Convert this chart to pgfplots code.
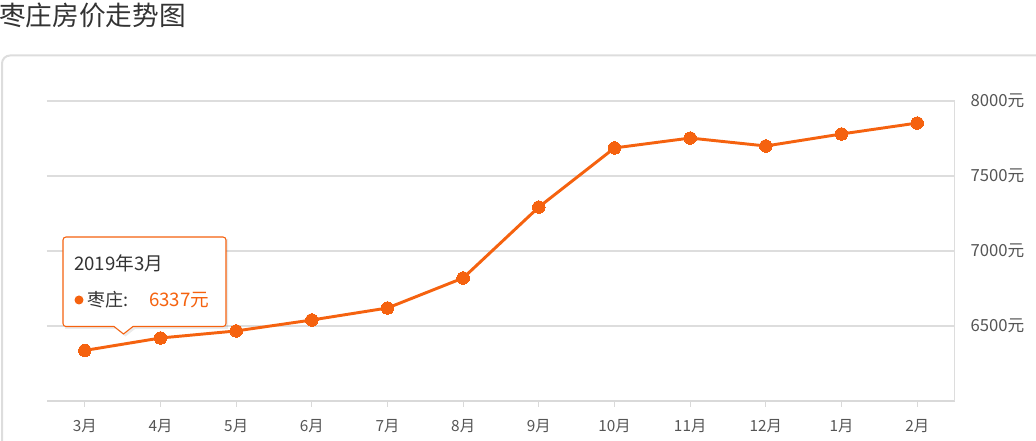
\documentclass[border=0pt]{standalone}
\usepackage{pgfplots}
\pgfplotsset{compat=1.18}
\usepackage{fontspec}
\setmainfont{Noto Sans CJK SC}
\definecolor{lc}{HTML}{F5620F}
\definecolor{gridc}{HTML}{DDDDDD}
\definecolor{axc}{HTML}{D9D9D9}
\definecolor{txt}{HTML}{333333}
\definecolor{tick}{HTML}{555555}
\begin{document}
\begin{tikzpicture}[x=0.75pt,y=0.75pt]
\path[use as bounding box] (0,0) rectangle (1036,441);
\clip (0,0) rectangle (1036,441);
% title
\node[anchor=west, inner sep=0pt, text=txt, font=\fontsize{20}{24}\selectfont] at (-1,426) {枣庄房价走势图};
% panel
\draw[gridc, line width=1.5pt, rounded corners=6] (2,-20) -- (2,385.5) -- (1060,385.5);
\begin{axis}[
  at={(35.25pt,30pt)}, anchor=south west,
  scale only axis, width=681pt, height=225pt,
  xmin=-0.5, xmax=11.5, ymin=6000, ymax=8000,
  axis line style={draw=none},
  xtick={0,...,11},
  xticklabels={3月,4月,5月,6月,7月,8月,9月,10月,11月,12月,1月,2月},
  ytick={6500,7000,7500,8000},
  yticklabels={6500元,7000元,7500元,8000元},
  xtick pos=bottom, ytick pos=right, yticklabel pos=right,
  tick align=outside,
  major tick length=4.5pt,
  xtick style={draw=axc, line width=0.9pt},
  ytick style={draw=none},
  ymajorgrids, grid style={draw=gridc, line width=0.8pt},
  xticklabel style={font=\fontsize{11.5}{13}\selectfont, text=tick, inner sep=0pt, anchor=north, yshift=-9.2pt},
  yticklabel style={font=\fontsize{12.5}{14}\selectfont, text=tick, inner sep=0pt, anchor=west, xshift=7pt},
  clip=false,
]
\addplot[color=lc, line width=2.2pt, mark=*, mark size=4.7pt, mark options={fill=lc, draw=lc, line width=0pt}] coordinates {
(0,6337) (1,6420) (2,6467) (3,6540) (4,6620) (5,6820) (6,7293) (7,7687) (8,7753) (9,7700) (10,7780) (11,7853)
};
\end{axis}
% axis lines
\draw[axc, line width=2.2pt] (47,40) -- (955,40);
\draw[gridc, line width=1.2pt] (954.5,40) -- (954.5,340);
% tooltip
\fill[black, opacity=0.08] (65,202) -- (228,202) -- (228,112) -- (135,112) -- (125.5,104.5) -- (116,112) -- (65,112) -- cycle;
\draw[lc, line width=0.8pt, fill=white] (66,204) -- (223,204) to[out=0,in=90] (226,201) -- (226,117.5) to[out=-90,in=0] (223,114.5) -- (133,114.5) -- (123.5,107) -- (114,114.5) -- (66,114.5) to[out=180,in=-90] (63,117.5) -- (63,201) to[out=90,in=180] (66,204);
\node[anchor=west, inner sep=0pt, text=txt, font=\fontsize{14}{16}\selectfont] at (74,178) {2019年3月};
\fill[lc] (79,141) circle (4.5);
\node[anchor=west, inner sep=0pt, text=txt, font=\fontsize{13.5}{16}\selectfont] at (87,141) {枣庄:};
\node[anchor=west, inner sep=0pt, text=lc, font=\fontsize{14}{16}\selectfont] at (149,141) {6337元};
\end{tikzpicture}
\end{document}
